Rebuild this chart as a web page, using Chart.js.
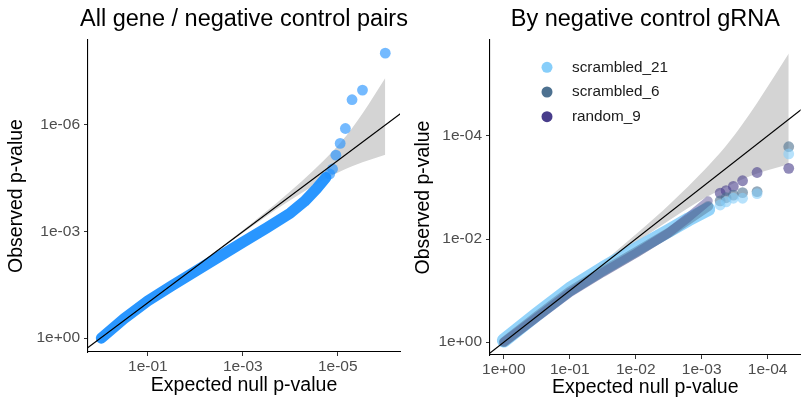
<!DOCTYPE html>
<html>
<head>
<meta charset="utf-8">
<script src="https://cdn.jsdelivr.net/npm/chart.js@4.4.0/dist/chart.umd.min.js"></script>
<style>
    html, body { margin: 0; padding: 0; background: #fff; }
    #wrap { position: relative; width: 806px; height: 400px; }
    .panel { position: absolute; top: 0; height: 400px; }
</style>
</head>
<body>
<div id="wrap">
    <!-- left canvas is wider so its title can run past the right edge of the plot -->
    <div class="panel" style="left:0; width:420px"><canvas id="pairsChart" width="420" height="400"></canvas></div>
    <div class="panel" style="left:403px; width:403px"><canvas id="grnaChart" width="403" height="400"></canvas></div>
</div>
<script>
// All values are -log10(p): expected (x) against observed (y)

// [ALL GENE / NEGATIVE CONTROL PAIRS]
// dense bulk of the QQ curve
const pairsBulkExpected = [0.02, 0.5, 1.0, 1.5, 2.0, 2.5, 3.0, 3.5, 4.0, 4.3, 4.55, 4.75];
const pairsBulkObserved = [0.0, 0.55, 1.05, 1.47, 1.88, 2.29, 2.70, 3.10, 3.52, 3.85, 4.20, 4.52];
// smallest p-values, one point each
const pairsTailExpected = [6.0, 5.52, 5.30, 5.16, 5.05, 4.96, 4.89, 4.83];
const pairsTailObserved = [8.02, 6.98, 6.71, 5.90, 5.48, 5.15, 4.76, 4.62];
// 95% band of the null
const pairsBandExpected = [0.0, 1.7, 2.70, 3.22, 3.70, 4.23, 4.72, 5.05, 5.30, 5.52, 6.0];
const pairsBandUpper = [0.0, 1.71, 2.73, 3.27, 3.79, 4.40, 5.02, 5.49, 5.91, 6.32, 7.32];
const pairsBandLower = [0.0, 1.69, 2.67, 3.17, 3.62, 4.08, 4.47, 4.69, 4.84, 4.95, 5.16];

// [BY NEGATIVE CONTROL gRNA]
const grnaNames = ['scrambled_21', 'scrambled_6', 'random_9'];
const grnaColors = ['rgb(135,206,250)', 'rgb(77,113,144)', 'rgb(72,61,139)'];
const grnaBulkExpected = [0.0, 0.5, 1.0, 1.5, 2.0, 2.5, 2.8, 3.1];
const scrambled21Bulk = [0.03, 0.54, 1.03, 1.43, 1.80, 2.16, 2.38, 2.58];
const scrambled6Bulk = [0.0, 0.50, 0.98, 1.37, 1.74, 2.12, 2.38, 2.64];
const random9Bulk = [0.0, 0.48, 0.96, 1.35, 1.72, 2.12, 2.42, 2.74];
const grnaTailExpected = [4.32, 3.84, 3.62, 3.48, 3.37, 3.28];
const scrambled21Tail = [3.65, 2.88, 2.79, 2.79, 2.72, 2.66];
const scrambled6Tail = [3.79, 2.92, 2.90, 2.85, 2.80, 2.74];
const random9Tail = [3.37, 3.29, 3.13, 3.02, 2.94, 2.89];
const grnaBandExpected = [0.0, 1.02, 1.54, 2.02, 2.55, 3.04, 3.37, 3.62, 3.84, 4.32];
const grnaBandUpper = [0.0, 1.05, 1.59, 2.11, 2.72, 3.34, 3.81, 4.23, 4.64, 5.60];
const grnaBandLower = [0.0, 0.99, 1.49, 1.94, 2.40, 2.79, 3.01, 3.16, 3.27, 3.45];

// [TICKS]
const pairsXTicks = [1, 3, 5];
const pairsXLabels = ['1e-01', '1e-03', '1e-05'];
const pairsYTicks = [0, 3, 6];
const pairsYLabels = ['1e+00', '1e-03', '1e-06'];
const grnaXTicks = [0, 1, 2, 3, 4];
const grnaXLabels = ['1e+00', '1e-01', '1e-02', '1e-03', '1e-04'];
const grnaYTicks = [0, 2, 4];
const grnaYLabels = ['1e+00', '1e-02', '1e-04'];

const FONT = "'Liberation Sans', Arial, Helvetica, sans-serif";

const toPoints = (xs, ys) => xs.map((x, i) => ({ x: x, y: ys[i] }));

// y = x reference line, clipped by the chart area
const diagonal = () => ({
    data: [{ x: -1, y: -1 }, { x: 10, y: 10 }],
    borderColor: '#000',
    borderWidth: 1.2,
    pointRadius: 0,
    fill: false,
    order: 0
});

const bandPair = (xs, upper, lower) => ([
    {
        data: toPoints(xs, upper),
        borderColor: 'rgba(0,0,0,0)',
        backgroundColor: 'rgb(212,212,212)',
        pointRadius: 0,
        cubicInterpolationMode: 'monotone',
        fill: '+1',
        order: 10
    },
    {
        data: toPoints(xs, lower),
        borderColor: 'rgba(0,0,0,0)',
        pointRadius: 0,
        cubicInterpolationMode: 'monotone',
        fill: false,
        order: 11
    }
]);

const bulk = (xs, ys, color, width, order) => ({
    data: toPoints(xs, ys),
    borderColor: color,
    borderWidth: width,
    borderCapStyle: 'round',
    borderJoinStyle: 'round',
    tension: 0,
    pointRadius: 0,
    fill: false,
    order: order
});

const tail = (xs, ys, color, order) => ({
    data: toPoints(xs, ys),
    showLine: false,
    pointRadius: 5.4,
    pointBorderWidth: 0,
    pointBackgroundColor: color,
    fill: false,
    order: order
});

function axis(p) {
    return {
        type: 'linear',
        min: p.min,
        max: p.max,
        afterBuildTicks: (s) => { s.ticks = p.ticks.map(v => ({ value: v })); },
        afterFit: (s) => {
            // fixed axis size, no extra room for overhanging labels
            if (s.isHorizontal()) {
                s.height = p.size;
                s.paddingLeft = 0;
                s.paddingRight = 0;
            } else {
                s.width = p.size;
                s.paddingTop = 0;
                s.paddingBottom = 0;
            }
        },
        ticks: {
            callback: (v, i) => p.labels[i],
            font: { family: FONT, size: 15.5 },
            color: '#4d4d4d',
            padding: p.tickPad,
            autoSkip: false,
            maxRotation: 0
        },
        grid: { drawOnChartArea: false, drawTicks: true, tickLength: 4, tickColor: '#333' },
        border: { display: true, color: '#000', width: 1.1 },
        title: {
            display: true,
            text: p.title,
            font: { family: FONT, size: 19.5 },
            color: '#000',
            padding: p.titlePad
        }
    };
}

// Panel title centred over the plot area, free to run wider than it
const panelTitle = {
    id: 'panelTitle',
    afterDraw(chart, args, opts) {
        const { ctx, chartArea } = chart;
        ctx.save();
        ctx.font = `23.5px ${FONT}`;
        ctx.fillStyle = '#000';
        ctx.textAlign = 'center';
        ctx.textBaseline = 'middle';
        ctx.fillText(opts.text, (chartArea.left + chartArea.right) / 2, 19.5);
        ctx.restore();
    }
};

function baseOptions(title, padRight, scales) {
    return {
        responsive: false,
        animation: false,
        events: [],
        devicePixelRatio: 1,
        layout: { padding: { left: 0, right: padRight, top: 40, bottom: 0 } },
        plugins: {
            legend: { display: false },
            tooltip: { enabled: false },
            title: { display: false },
            panelTitle: { text: title }
        },
        scales: scales
    };
}

// Left: all pairs together
new Chart(document.getElementById('pairsChart'), {
    type: 'line',
    data: {
        datasets: [
            diagonal(),
            tail(pairsTailExpected, pairsTailObserved, 'rgba(30,144,255,0.62)', 2),
            bulk(pairsBulkExpected, pairsBulkObserved, 'rgba(30,144,255,0.95)', 11, 3),
            ...bandPair(pairsBandExpected, pairsBandUpper, pairsBandLower)
        ]
    },
    options: baseOptions('All gene / negative control pairs', 20, {
        x: axis({ min: -0.26, max: 6.31, ticks: pairsXTicks, labels: pairsXLabels, size: 48, tickPad: 1,
                  title: 'Expected null p-value', titlePad: { top: 0, bottom: 2.5 } }),
        y: axis({ min: -0.39, max: 8.39, ticks: pairsYTicks, labels: pairsYLabels, size: 88, tickPad: 4,
                  title: 'Observed p-value', titlePad: { top: 5, bottom: 0 } })
    }),
    plugins: [panelTitle]
});

// Legend of the three control gRNAs, drawn inside the plot area
const grnaLegend = {
    id: 'grnaLegend',
    afterDraw(chart) {
        const ctx = chart.ctx;
        ctx.save();
        ctx.font = `15.3px ${FONT}`;
        ctx.textBaseline = 'middle';
        grnaNames.forEach((name, i) => {
            const y = 67.3 + i * 24.7;
            ctx.fillStyle = grnaColors[i];
            ctx.beginPath();
            ctx.arc(144, y, 5.5, 0, Math.PI * 2);
            ctx.fill();
            ctx.fillStyle = '#1a1a1a';
            ctx.fillText(name, 169, y);
        });
        ctx.restore();
    }
};

const fade = (rgb, a) => rgb.replace('rgb(', 'rgba(').replace(')', `,${a})`);
const grnaBulk = [scrambled21Bulk, scrambled6Bulk, random9Bulk];
const grnaTail = [scrambled21Tail, scrambled6Tail, random9Tail];
// scrambled_21 sits underneath and shows at the edges of the band;
// the other two are laid over it half transparent so the colours mix
const bulkWidth = [14, 10, 9];
const bulkAlpha = [0.9, 0.45, 0.45];
const bulkOrder = [7, 5, 6];
const grnaSets = [];
grnaNames.forEach((name, i) => {
    grnaSets.push(tail(grnaTailExpected, grnaTail[i], fade(grnaColors[i], 0.6), 1 + i));
    grnaSets.push(bulk(grnaBulkExpected, grnaBulk[i], fade(grnaColors[i], bulkAlpha[i]), bulkWidth[i], bulkOrder[i]));
});

// Right: split by control gRNA
new Chart(document.getElementById('grnaChart'), {
    type: 'line',
    data: {
        datasets: [
            diagonal(),
            ...grnaSets,
            ...bandPair(grnaBandExpected, grnaBandUpper, grnaBandLower)
        ]
    },
    options: baseOptions('By negative control gRNA', 1, {
        x: axis({ min: -0.21, max: 4.50, ticks: grnaXTicks, labels: grnaXLabels, size: 45, tickPad: 1,
                  title: 'Expected null p-value', titlePad: { top: 0, bottom: 0.5 } }),
        y: axis({ min: -0.25, max: 5.86, ticks: grnaYTicks, labels: grnaYLabels, size: 87, tickPad: 4,
                  title: 'Observed p-value', titlePad: { top: 8.5, bottom: 0 } })
    }),
    plugins: [grnaLegend, panelTitle]
});
</script>
</body>
</html>
